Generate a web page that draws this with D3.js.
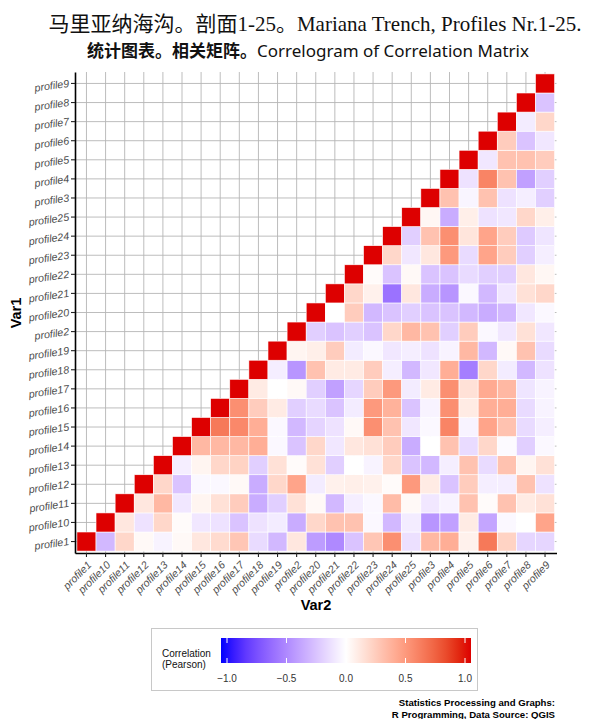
<!DOCTYPE html>
<html><head><meta charset="utf-8">
<script src="https://cdn.jsdelivr.net/npm/d3@7"></script>
<style>body{margin:0;background:#fff}</style>
</head><body>
<svg id="c" width="598" height="719"></svg>
<script>
// categories (alphabetical order as in the chart)
const profiles = ["profile1","profile10","profile11","profile12","profile13","profile14","profile15","profile16","profile17","profile18","profile19","profile2","profile20","profile21","profile22","profile23","profile24","profile25","profile3","profile4","profile5","profile6","profile7","profile8","profile9"];
// corrRows[r][k] = correlation of profiles[r] with profiles[r+1+k]
const corrRows = [
 [-0.3,0.2,0.03,-0.05,0.03,0.12,0.18,0.28,-0.15,-0.3,0.12,-0.42,-0.5,-0.25,0.28,0.55,-0.13,0.35,0.4,0.07,0.65,0.22,-0.17,-0.17],
 [0.12,-0.12,0.2,0.02,-0.1,-0.12,-0.25,-0.12,-0.08,-0.35,0.2,0.3,0.3,-0.03,-0.3,-0.08,-0.45,-0.4,0.1,-0.38,-0.03,0.0,0.45],
 [0.12,0.35,-0.1,0.05,0.15,0.25,-0.35,-0.2,0.15,0.03,-0.3,-0.07,-0.03,0.33,0.03,-0.1,-0.05,0.3,0.02,0.3,0.1,0.15],
 [0.2,-0.25,-0.03,-0.03,0.03,-0.35,0.2,0.45,-0.08,0.07,0.08,0.07,0.02,0.5,0.1,-0.25,0.25,-0.07,-0.07,0.3,-0.12],
 [-0.07,0.05,0.2,0.22,-0.2,0.15,0.02,0.15,-0.2,0.0,-0.05,0.2,-0.25,-0.3,-0.07,0.3,-0.15,0.3,0.05,0.15],
 [0.35,0.35,0.35,0.4,-0.03,-0.25,0.2,-0.1,0.12,0.15,0.25,-0.35,0.0,0.3,-0.15,0.2,-0.02,-0.2,-0.03],
 [0.65,0.58,0.4,-0.03,-0.3,-0.18,-0.12,0.03,0.55,0.3,-0.1,-0.03,0.6,-0.05,0.45,0.3,-0.15,-0.07],
 [0.55,0.25,0.1,-0.2,-0.15,-0.25,-0.08,0.5,0.38,-0.25,-0.05,0.55,0.1,0.4,0.4,-0.15,-0.05],
 [0.1,0.0,0.03,-0.2,-0.4,-0.17,0.25,0.5,-0.08,0.1,0.55,0.15,0.42,0.35,-0.11,-0.05],
 [-0.07,-0.45,0.3,0.1,0.1,0.25,-0.07,-0.3,-0.1,0.4,-0.55,0.2,-0.08,-0.3,-0.12],
 [0.05,0.08,0.25,-0.08,-0.03,-0.1,-0.07,-0.12,-0.05,0.35,-0.3,0.03,0.3,-0.15],
 [-0.2,-0.25,-0.2,-0.25,0.2,0.35,0.3,-0.2,0.25,-0.03,-0.1,0.15,-0.1],
 [0.0,0.25,-0.3,-0.25,-0.2,-0.25,-0.25,-0.3,-0.35,-0.3,-0.1,-0.03],
 [0.2,0.07,-0.6,0.12,-0.35,-0.45,-0.03,-0.3,-0.1,0.15,0.2],
 [0.02,-0.25,0.03,-0.25,-0.25,-0.15,-0.2,-0.2,0.12,0.04],
 [0.2,-0.1,0.12,0.5,-0.15,0.45,0.25,-0.2,-0.07],
 [-0.2,0.3,0.55,0.13,0.45,0.25,-0.22,-0.11],
 [0.04,-0.35,0.08,-0.12,-0.1,0.2,0.08],
 [0.3,-0.04,0.3,-0.12,-0.07,-0.2],
 [-0.12,0.6,0.3,-0.4,-0.2],
 [-0.1,0.3,0.3,0.25],
 [0.25,-0.25,-0.1],
 [-0.08,0.2],
 [-0.25],
 []
];
const legendTicks = [-1, -0.5, 0, 0.5, 1];
const titleLine1 = "马里亚纳海沟。剖面1-25。Mariana Trench, Profiles Nr.1-25.";
const titleLine2cn = "统计图表。相关矩阵。";
const titleLine2en = "Correlogram of Correlation Matrix";
const captionLines = ["Statistics Processing and Graphs:", "R Programming, Data Source: QGIS"];

// build tile table
const cells = [];
profiles.forEach((p, r) => {
  cells.push({row: p, col: p, v: 1});
  corrRows[r].forEach((v, k) => cells.push({row: p, col: profiles[r + 1 + k], v}));
});

const svg = d3.select("#c");
const x = d3.scaleBand().domain(profiles).range([75, 556.5]).paddingInner(0).paddingOuter(0.1);
const y = d3.scaleBand().domain(profiles).range([553, 72]).paddingInner(0).paddingOuter(0.1);
const color = d3.scaleLinear().domain([-1, 0, 1]).range(["#0000ff", "#ffffff", "#dd0000"]).interpolate(d3.interpolateLab).clamp(true);

// grid lines (at category centres)
const g = svg.append("g");
g.selectAll("line.gx").data(profiles).join("line")
  .attr("x1", d => x(d) + x.bandwidth()/2).attr("x2", d => x(d) + x.bandwidth()/2)
  .attr("y1", 72).attr("y2", 553).attr("stroke", "#b5b5b5").attr("stroke-width", 0.9);
g.selectAll("line.gy").data(profiles).join("line")
  .attr("y1", d => y(d) + y.bandwidth()/2).attr("y2", d => y(d) + y.bandwidth()/2)
  .attr("x1", 75).attr("x2", 556.5).attr("stroke", "#b5b5b5").attr("stroke-width", 0.9);

// tiles
svg.append("g").selectAll("rect").data(cells).join("rect")
  .attr("x", d => x(d.col)).attr("y", d => y(d.row))
  .attr("width", x.bandwidth()).attr("height", y.bandwidth())
  .attr("fill", d => color(d.v)).attr("stroke", "#fff").attr("stroke-width", 0.6);

// axes
const font = "'Liberation Sans', Arial, sans-serif";
const xAxis = svg.append("g").attr("transform", "translate(0,553)")
  .call(d3.axisBottom(x).tickSize(4).tickSizeOuter(0));
const yAxis = svg.append("g").attr("transform", "translate(75,0)")
  .call(d3.axisLeft(y).tickSize(4).tickSizeOuter(0));
[xAxis, yAxis].forEach(a => {
  a.select(".domain").attr("stroke", "#000").attr("stroke-width", 1.6);
  a.selectAll(".tick line").attr("stroke", "#222").attr("stroke-width", 1.1);
  a.selectAll("text").attr("font-family", font).attr("font-size", 10.6).attr("fill", "#4d4d4d").attr("font-style", "italic");
});
xAxis.selectAll("text")
  .attr("text-anchor", "end").attr("dy", "0.35em").attr("y", 0)
  .attr("transform", "translate(3,10) rotate(-45)");
yAxis.selectAll("text")
  .attr("text-anchor", "end").attr("x", 0).attr("dy", "0.32em")
  .attr("transform", "translate(-6,0) rotate(-8)");

// axis titles
svg.append("text").attr("x", 316).attr("y", 610).attr("text-anchor", "middle")
  .attr("font-family", font).attr("font-weight", "bold").attr("font-size", 14.5).text("Var2");
svg.append("text").attr("transform", "translate(21,313) rotate(-90)").attr("text-anchor", "middle")
  .attr("font-family", font).attr("font-weight", "bold").attr("font-size", 14.5).text("Var1");

// titles
svg.append("text").attr("x", 315).attr("y", 31).attr("text-anchor", "middle")
  .attr("font-family", "'Liberation Serif', 'Times New Roman', 'Noto Sans CJK SC', serif")
  .attr("font-size", 21).attr("fill", "#111").text(titleLine1);
const t2 = svg.append("text").attr("x", 308).attr("y", 57).attr("text-anchor", "middle")
  .attr("font-family", "'Noto Sans', 'Noto Sans CJK SC', sans-serif")
  .attr("font-size", 17).attr("fill", "#111");
t2.append("tspan").attr("font-weight", "bold").text(titleLine2cn);
t2.append("tspan").attr("font-weight", "normal").text(titleLine2en);

// legend
const lg = svg.append("g");
lg.append("rect").attr("x", 151.5).attr("y", 628.5).attr("width", 326).attr("height", 62)
  .attr("fill", "#fff").attr("stroke", "#c8c8c8").attr("stroke-width", 1);
const lx = d3.scaleLinear().domain([-1, 1]).range([227, 465]);
const defs = svg.append("defs");
const grad = defs.append("linearGradient").attr("id", "lgrad").attr("x1", "0%").attr("x2", "100%");
d3.range(0, 1.0001, 0.05).forEach(t => {
  const px = 221 + t * 250;
  grad.append("stop").attr("offset", (t*100) + "%").attr("stop-color", color(lx.invert(px)));
});
lg.append("rect").attr("x", 221).attr("y", 638).attr("width", 250).attr("height", 25).attr("fill", "url(#lgrad)");
legendTicks.forEach(t => {
  lg.append("line").attr("x1", lx(t)).attr("x2", lx(t)).attr("y1", 638).attr("y2", 643).attr("stroke", "#fff").attr("stroke-width", 1);
  lg.append("line").attr("x1", lx(t)).attr("x2", lx(t)).attr("y1", 658).attr("y2", 663).attr("stroke", "#fff").attr("stroke-width", 1);
  lg.append("text").attr("x", lx(t)).attr("y", 682).attr("text-anchor", "middle")
    .attr("font-family", font).attr("font-size", 10).attr("fill", "#333").text(d3.format(".1f")(t));
});
lg.append("text").attr("x", 162).attr("y", 657).attr("font-family", font).attr("font-size", 10).attr("fill", "#111").text("Correlation");
lg.append("text").attr("x", 162).attr("y", 668).attr("font-family", font).attr("font-size", 10).attr("fill", "#111").text("(Pearson)");

// caption
captionLines.forEach((t, i) => {
  svg.append("text").attr("x", 555).attr("y", 706 + i * 11.5).attr("text-anchor", "end")
    .attr("font-family", font).attr("font-weight", "bold").attr("font-size", 9.6).attr("fill", "#000").text(t);
});
</script>
</body></html>
